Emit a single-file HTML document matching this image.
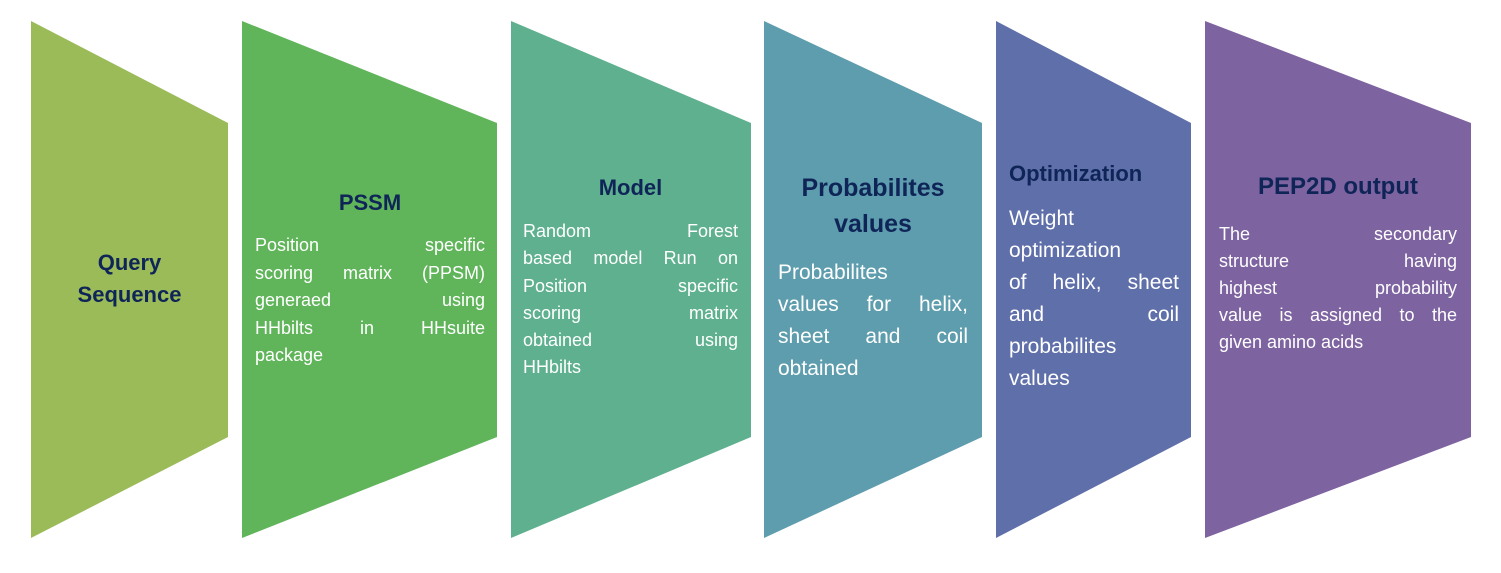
<!DOCTYPE html>
<html><head><meta charset="utf-8"><style>
body{margin:0;width:1501px;height:573px;background:#fff;position:relative;overflow:hidden;font-family:"Liberation Sans",sans-serif}
svg{position:absolute;left:0;top:0}
.t{position:absolute;color:#0f2558;font-weight:bold;text-align:center;white-space:nowrap}
.b{position:absolute;color:#fff}
.b div{white-space:nowrap;overflow:visible}
.j{text-align:justify;text-align-last:justify}
</style></head><body>
<svg width="1501" height="573">
<polygon points="31,21 228,123 228,437 31,538" fill="#9bbb59"/>
<polygon points="242,21 497,123 497,437 242,538" fill="#60b45a"/>
<polygon points="511,21 751,123 751,437 511,538" fill="#5eb08f"/>
<polygon points="764,21 982,123 982,437 764,538" fill="#5e9dad"/>
<polygon points="996,21 1191,123 1191,437 996,538" fill="#5f6fa9"/>
<polygon points="1205,21 1471,123 1471,437 1205,538" fill="#7d63a0"/>
</svg>
<div class="t" style="left:31px;width:197px;top:247px;font-size:22px;line-height:32px">Query<br>Sequence</div>
<div class="t" style="left:255px;width:230px;top:190px;font-size:22px">PSSM</div>
<div class="b" style="left:255px;width:230px;top:232px;font-size:18px;line-height:27.5px">
<div class="j">Position specific</div><div class="j">scoring matrix (PPSM)</div><div class="j">generaed using</div><div class="j">HHbilts in HHsuite</div><div>package</div></div>
<div class="t" style="left:523px;width:215px;top:175px;font-size:22px">Model</div>
<div class="b" style="left:523px;width:215px;top:218px;font-size:18px;line-height:27.3px">
<div class="j">Random Forest</div><div class="j">based model Run on</div><div class="j">Position specific</div><div class="j">scoring matrix</div><div class="j">obtained using</div><div>HHbilts</div></div>
<div class="t" style="left:764px;width:218px;top:170px;font-size:25px;line-height:36px">Probabilites<br>values</div>
<div class="b" style="left:778px;width:190px;top:257px;font-size:21px;line-height:32px">
<div>Probabilites</div><div class="j">values for helix,</div><div class="j">sheet and coil</div><div>obtained</div></div>
<div class="t" style="left:1009px;top:161px;font-size:22px;text-align:left">Optimization</div>
<div class="b" style="left:1009px;width:170px;top:203px;font-size:21px;line-height:32px">
<div>Weight</div><div>optimization</div><div class="j">of helix, sheet</div><div class="j">and coil</div><div>probabilites</div><div>values</div></div>
<div class="t" style="left:1205px;width:266px;top:173px;font-size:24px">PEP2D output</div>
<div class="b" style="left:1219px;width:238px;top:221px;font-size:18px;line-height:27px">
<div class="j">The secondary</div><div class="j">structure having</div><div class="j">highest probability</div><div class="j">value is assigned to the</div><div>given amino acids</div></div>
</body></html>
